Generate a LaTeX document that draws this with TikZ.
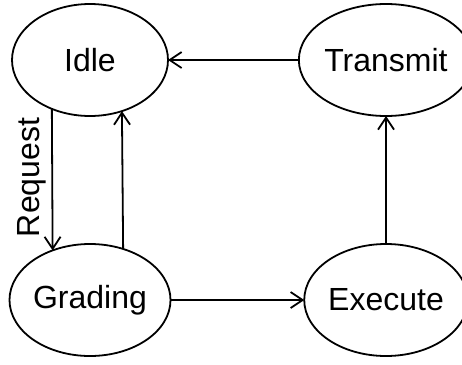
\documentclass[tikz,border=0pt]{standalone}
\usepackage{fontspec}
\setmainfont{Liberation Sans}
\usetikzlibrary{arrows.meta,shapes.geometric}
\begin{document}
\begin{tikzpicture}[x=1pt,y=-1pt,
  state/.style={draw, ellipse, line width=1.8pt, inner sep=0pt, outer sep=0pt,
    minimum height=112pt, font=\fontsize{32}{38}\selectfont},
  flow/.style={line width=1.8pt,
    -{Straight Barb[length=12pt,width=16pt,line width=1.8pt]}},
  lbl/.style={inner sep=0pt, font=\fontsize{32}{38}\selectfont}]
  \useasboundingbox (0,0) rectangle (462,364);

  % states
  \node[state, minimum width=156pt] (idle)     at (90,60)   {Idle};
  \node[state, minimum width=150pt] (transmit) at (386,60)  {Transmit};
  \node[state, minimum width=156pt] (grading)  at (90,300)  {Grading};
  \node[state, minimum width=150pt] (execute)  at (386,300) {Execute};

  % transitions
  \draw[flow] (idle.232.8) -- (grading.127.2);
  \draw[flow] (grading.57.5) -- (idle.302.5);
  \draw[flow] (grading.east) -- (execute.west);
  \draw[flow] (execute.north) -- (transmit.south);
  \draw[flow] (transmit.west) -- (idle.east);

  % transition label
  \node[lbl, rotate=90] (req) at (31.5,177.5) {Request};
\end{tikzpicture}
\end{document}
